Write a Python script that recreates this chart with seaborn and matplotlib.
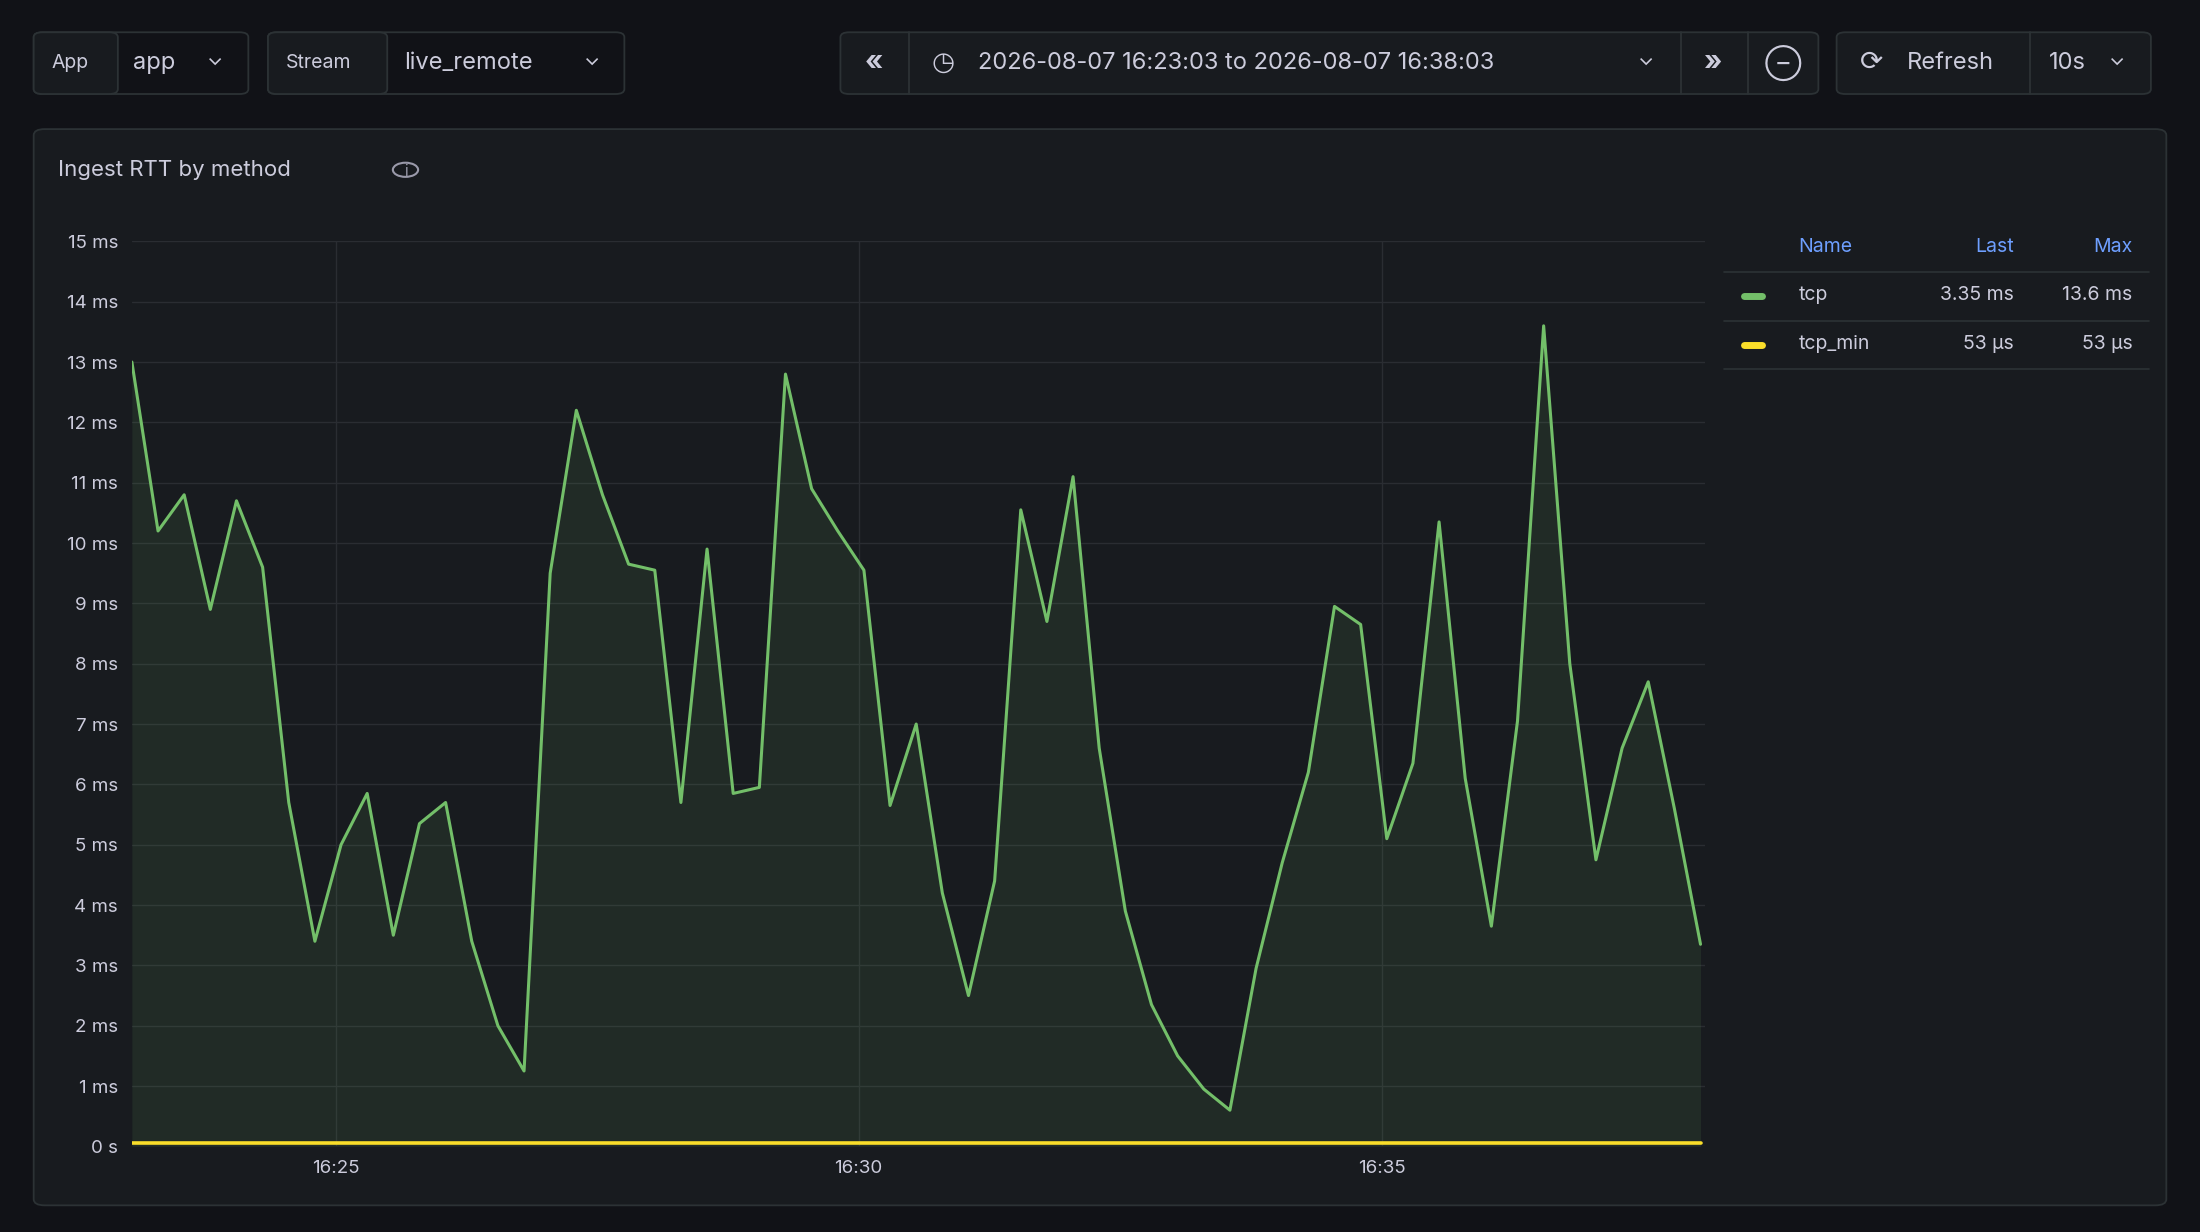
import numpy as np
import pandas as pd
import matplotlib
matplotlib.use("Agg")
import matplotlib.pyplot as plt
from matplotlib.patches import FancyBboxPatch, Circle
import seaborn as sns

# ─── DATA ──────────────────────────────────────────────────────────────────────
STEP_S = 15  # one sample every 15 s, starting 16:23:03
tcp_ms = [13.0, 10.2, 10.8, 8.9, 10.7, 9.6, 5.7, 3.4, 5.0, 5.85,
          3.5, 5.35, 5.7, 3.4, 2.0, 1.25, 9.5, 12.2, 10.8, 9.65,
          9.55, 5.7, 9.9, 5.85, 5.95, 12.8, 10.9, 10.2, 9.55, 5.65,
          7.0, 4.2, 2.5, 4.4, 10.55, 8.7, 11.1, 6.6, 3.9, 2.35,
          1.5, 0.95, 0.6, 2.95, 4.7, 6.2, 8.95, 8.65, 5.1, 6.35,
          10.35, 6.1, 3.65, 7.05, 13.6, 8.0, 4.75, 6.6, 7.7, 5.6, 3.35]
tcp_min_ms = [0.053] * len(tcp_ms)
x_ticks_s = [117, 417, 717]
x_tick_labels = ["16:25", "16:30", "16:35"]
y_ticks = list(range(16))
y_tick_labels = ["0 s"] + [f"{v} ms" for v in y_ticks[1:]]
legend_rows = [("tcp", "3.35 ms", "13.6 ms"), ("tcp_min", "53 µs", "53 µs")]

GREEN, YELLOW = "#73bf69", "#fade2a"
BG, PANEL, BORDER = "#111217", "#181b1f", "#2c3235"
TXT, BLUE = "#ccccdc", "#6e9fff"

df = pd.DataFrame({
    "t": np.arange(len(tcp_ms)) * STEP_S,
    "tcp": tcp_ms,
    "tcp_min": tcp_min_ms,
})

sns.set_theme(style="dark")
plt.rcParams["font.family"] = ["Inter", "DejaVu Sans"]

W, H = 1568, 878
fig = plt.figure(figsize=(22, 12.32), dpi=100, facecolor=BG)

def fx(x): return x / W
def fy(y): return 1 - y / H

def box(x0, y0, x1, y1, fc=PANEL, ec=BORDER, r=0.004):
    p = FancyBboxPatch((fx(x0), fy(y1)), fx(x1) - fx(x0), fy(y0) - fy(y1),
                       boxstyle=f"round,pad=0,rounding_size={r}",
                       transform=fig.transFigure, fc=fc, ec=ec, lw=1.3, zorder=-5)
    fig.patches.append(p)

def label(x, y, s, size=16.5, color=TXT, ha="left", **kw):
    fig.text(fx(x), fy(y), s, fontsize=size, color=color, ha=ha, va="center", **kw)

def vline(x, y0, y1):
    fig.add_artist(plt.Line2D([fx(x)] * 2, [fy(y0), fy(y1)], color=BORDER, lw=1.3))

# ─── TOOLBAR ───────────────────────────────────────────────────────────────────
box(24, 23, 177, 67, fc=BG)
box(24, 23, 84, 67, fc=PANEL)
label(37, 45, "App", 14)
label(95, 45, "app", 17)
label(153, 42, "⌄", 15, ha="center")
box(191, 23, 445, 67, fc=BG)
box(191, 23, 276, 67, fc=PANEL)
label(204, 45, "Stream", 14)
label(288, 45, "live_remote", 17)
label(422, 42, "⌄", 15, ha="center")

box(599, 23, 1296, 67, fc=PANEL)
for xs in (648, 1198, 1246):
    vline(xs, 23, 67)
label(623, 45, "«", 20, ha="center", weight="bold")
label(672, 45, "◷", 19, ha="center")
label(697, 45, "2026-08-07 16:23:03 to 2026-08-07 16:38:03", 17)
label(1173, 42, "⌄", 15, ha="center")
label(1221, 45, "»", 20, ha="center", weight="bold")
label(1271, 45, "⊖", 19, ha="center")

box(1309, 23, 1533, 67, fc=PANEL)
vline(1447, 23, 67)
label(1334, 45, "⟳", 20, ha="center")
label(1359, 45, "Refresh", 17)
label(1460, 45, "10s", 17)
label(1509, 42, "⌄", 15, ha="center")

# ─── PANEL ─────────────────────────────────────────────────────────────────────
box(24, 92, 1544, 859, fc=PANEL, r=0.005)
label(41, 121, "Ingest RTT by method", 16)
fig.patches.append(Circle((fx(289), fy(121)), 9 / W, transform=fig.transFigure,
                          fc="none", ec="#9a9aaa", lw=1.5))
label(289, 122, "i", 11, color="#9a9aaa", ha="center")

ax = fig.add_axes([fx(94), fy(817), fx(1215) - fx(94), fy(172) - fy(817)])
ax.set_facecolor(PANEL)
ax.fill_between(df["t"], df["tcp"], color=GREEN, alpha=0.1, lw=0)
sns.lineplot(data=df, x="t", y="tcp", color=GREEN, lw=2.2, ax=ax)
sns.lineplot(data=df, x="t", y="tcp_min", color=YELLOW, lw=2.6, ax=ax)
ax.set_xlim(0, 900 * 1121 / 1118)
ax.set_ylim(0, 15)
ax.set_xticks(x_ticks_s, x_tick_labels)
ax.set_yticks(y_ticks, y_tick_labels)
ax.grid(True, color="#2a2d32", lw=1)
ax.tick_params(colors=TXT, labelsize=13.5, length=0, pad=10)
ax.set_xlabel("")
ax.set_ylabel("")
for s in ax.spines.values():
    s.set_visible(False)

# ─── LEGEND TABLE ──────────────────────────────────────────────────────────────
label(1282, 176, "Name", 14, color=BLUE)
label(1435, 176, "Last", 14, color=BLUE, ha="right")
label(1520, 176, "Max", 14, color=BLUE, ha="right")
for i, (name, last, mx) in enumerate(legend_rows):
    yc = 210 + i * 35
    fig.add_artist(plt.Line2D([fx(1229), fx(1532)], [fy(yc - 16)] * 2, color=BORDER, lw=1.2))
    fig.add_artist(plt.Line2D([fx(1243), fx(1256)], [fy(yc + 1)] * 2,
                              color=[GREEN, YELLOW][i], lw=5, solid_capstyle="round"))
    label(1282, yc, name, 14)
    label(1435, yc, last, 14, ha="right")
    label(1520, yc, mx, 14, ha="right")
fig.add_artist(plt.Line2D([fx(1229), fx(1532)], [fy(263)] * 2, color=BORDER, lw=1.2))

fig.savefig("out.png", dpi=100, facecolor=BG)
